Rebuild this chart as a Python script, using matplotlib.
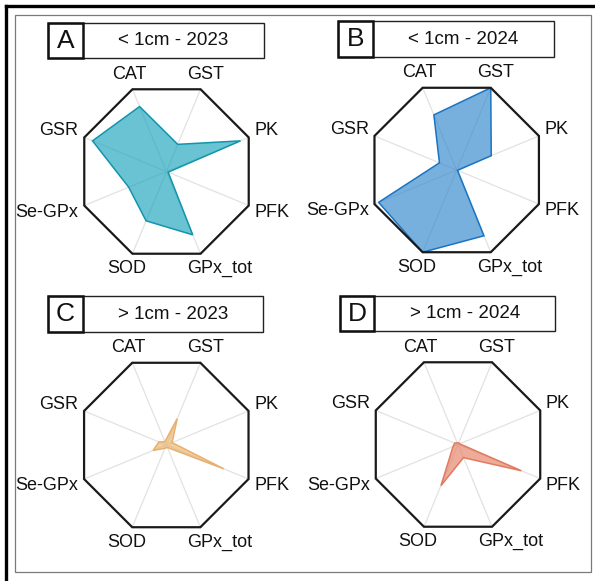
import numpy as np
import matplotlib.pyplot as plt
from matplotlib import font_manager
from matplotlib.patches import Rectangle, Polygon

# Enzyme axes, clockwise from the upper left
enzymes = ["CAT", "GST", "PK", "PFK", "GPx_tot", "SOD", "Se-GPx", "GSR"]

# Normalised activities (0 = centre, 1 = octagon vertex)
small_2023 = [0.79, 0.33, 0.90, 0.02, 0.77, 0.60, 0.46, 0.90]
small_2024 = [0.67, 1.00, 0.42, 0.01, 0.80, 1.00, 0.95, 0.21]
large_2023 = [0.04, 0.32, 0.07, 0.70, 0.03, 0.04, 0.16, 0.09]
large_2024 = [0.02, 0.02, 0.02, 0.77, 0.16, 0.50, 0.06, 0.04]

letters = ["A", "B", "C", "D"]
titles = ["< 1cm - 2023", "< 1cm - 2024", "> 1cm - 2023", "> 1cm - 2024"]
series = [small_2023, small_2024, large_2023, large_2024]
face_colors = ["#1AA3BA", "#2F86CC", "#EBB46A", "#E57F63"]
edge_colors = ["#1195AD", "#1A74C4", "#E8B070", "#E27A60"]

names = {f.name for f in font_manager.fontManager.ttflist}
if "Liberation Sans Narrow" in names:
    family = "Liberation Sans Narrow"
    lab_size, title_size, letter_size = 14, 15, 18
else:
    family = "Liberation Sans"
    lab_size, title_size, letter_size = 13, 13.5, 19
plt.rcParams["font.family"] = [family, "DejaVu Sans"]

FW, FH, DPI = 595, 581, 100
R = 89.0          # octagon radius in pixels
EXT = 1.75        # half-extent of each panel axes in radius units
centers = [(166.5, 171.5), (456.7, 170.0), (166.3, 445.0), (458.0, 444.5)]

fig = plt.figure(figsize=(FW / DPI, FH / DPI), dpi=DPI)

# outer frame: heavy black rule on left/top, thin grey box inside
fig.add_artist(plt.Line2D([6 / FW, 6 / FW], [0, 1 - 6 / FH], color="black", lw=2.4,
                          transform=fig.transFigure))
fig.add_artist(plt.Line2D([6 / FW, 1], [1 - 6 / FH, 1 - 6 / FH], color="black", lw=2.4,
                          transform=fig.transFigure))
fig.add_artist(Rectangle((15 / FW, 1 - 572 / FH), 576 / FW, 557 / FH, fill=False,
                         ec="#7a7a7a", lw=0.9, transform=fig.transFigure))

theta = np.deg2rad(112.5 - 45 * np.arange(len(enzymes)))
cos_t, sin_t = np.cos(theta), np.sin(theta)

for (cx, cy), letter, title, vals, fc, ec in zip(centers, letters, titles, series,
                                                 face_colors, edge_colors):
    size = 2 * EXT * R
    ax = fig.add_axes([(cx - size / 2) / FW, (FH - cy - size / 2) / FH, size / FW, size / FH])
    ax.set_xlim(-EXT, EXT)
    ax.set_ylim(-EXT, EXT)
    ax.axis("off")

    # spokes
    for c, s in zip(cos_t, sin_t):
        ax.plot([0, c], [0, s], color="#e2e2e2", lw=0.9, zorder=1)

    # data polygon
    v = np.asarray(vals)
    pts = np.column_stack([v * cos_t, v * sin_t])
    ax.add_patch(Polygon(pts, closed=True, fc=fc, alpha=0.65, ec="none", zorder=2))
    ax.add_patch(Polygon(pts, closed=True, fill=False, ec=ec, lw=1.1, zorder=3))

    # octagon frame
    ax.add_patch(Polygon(np.column_stack([cos_t, sin_t]), closed=True, fill=False,
                         ec="#1a1a1a", lw=1.6, zorder=4))

    # axis labels
    for name, c, s in zip(enzymes, cos_t, sin_t):
        ha = "left" if c > 0 else "right"
        if abs(c) > 0.9:
            x, y = 1.07 * c, 1.2 * s
        else:
            x, y = 0.6 * c, 1.18 * s
        ax.text(x, y, name, ha=ha, va="center", fontsize=lab_size, color="#111111")

    # title box with panel letter
    bx0, bx1, by0, by1, lw_box = -1.33, 1.09, 1.27, 1.67, 0.39
    ax.add_patch(Rectangle((bx0, by0), bx1 - bx0, by1 - by0, fill=False, ec="#222222",
                           lw=1.0, clip_on=False))
    ax.add_patch(Rectangle((bx0, by0), lw_box, by1 - by0, fill=False, ec="#111111",
                           lw=1.8, clip_on=False))
    ax.text(bx0 + lw_box / 2, (by0 + by1) / 2, letter, ha="center", va="center",
            fontsize=letter_size, color="#111111")
    ax.text((bx0 + lw_box + bx1) / 2, (by0 + by1) / 2, title, ha="center", va="center",
            fontsize=title_size, color="#111111")

fig.savefig("out.png", dpi=DPI)
